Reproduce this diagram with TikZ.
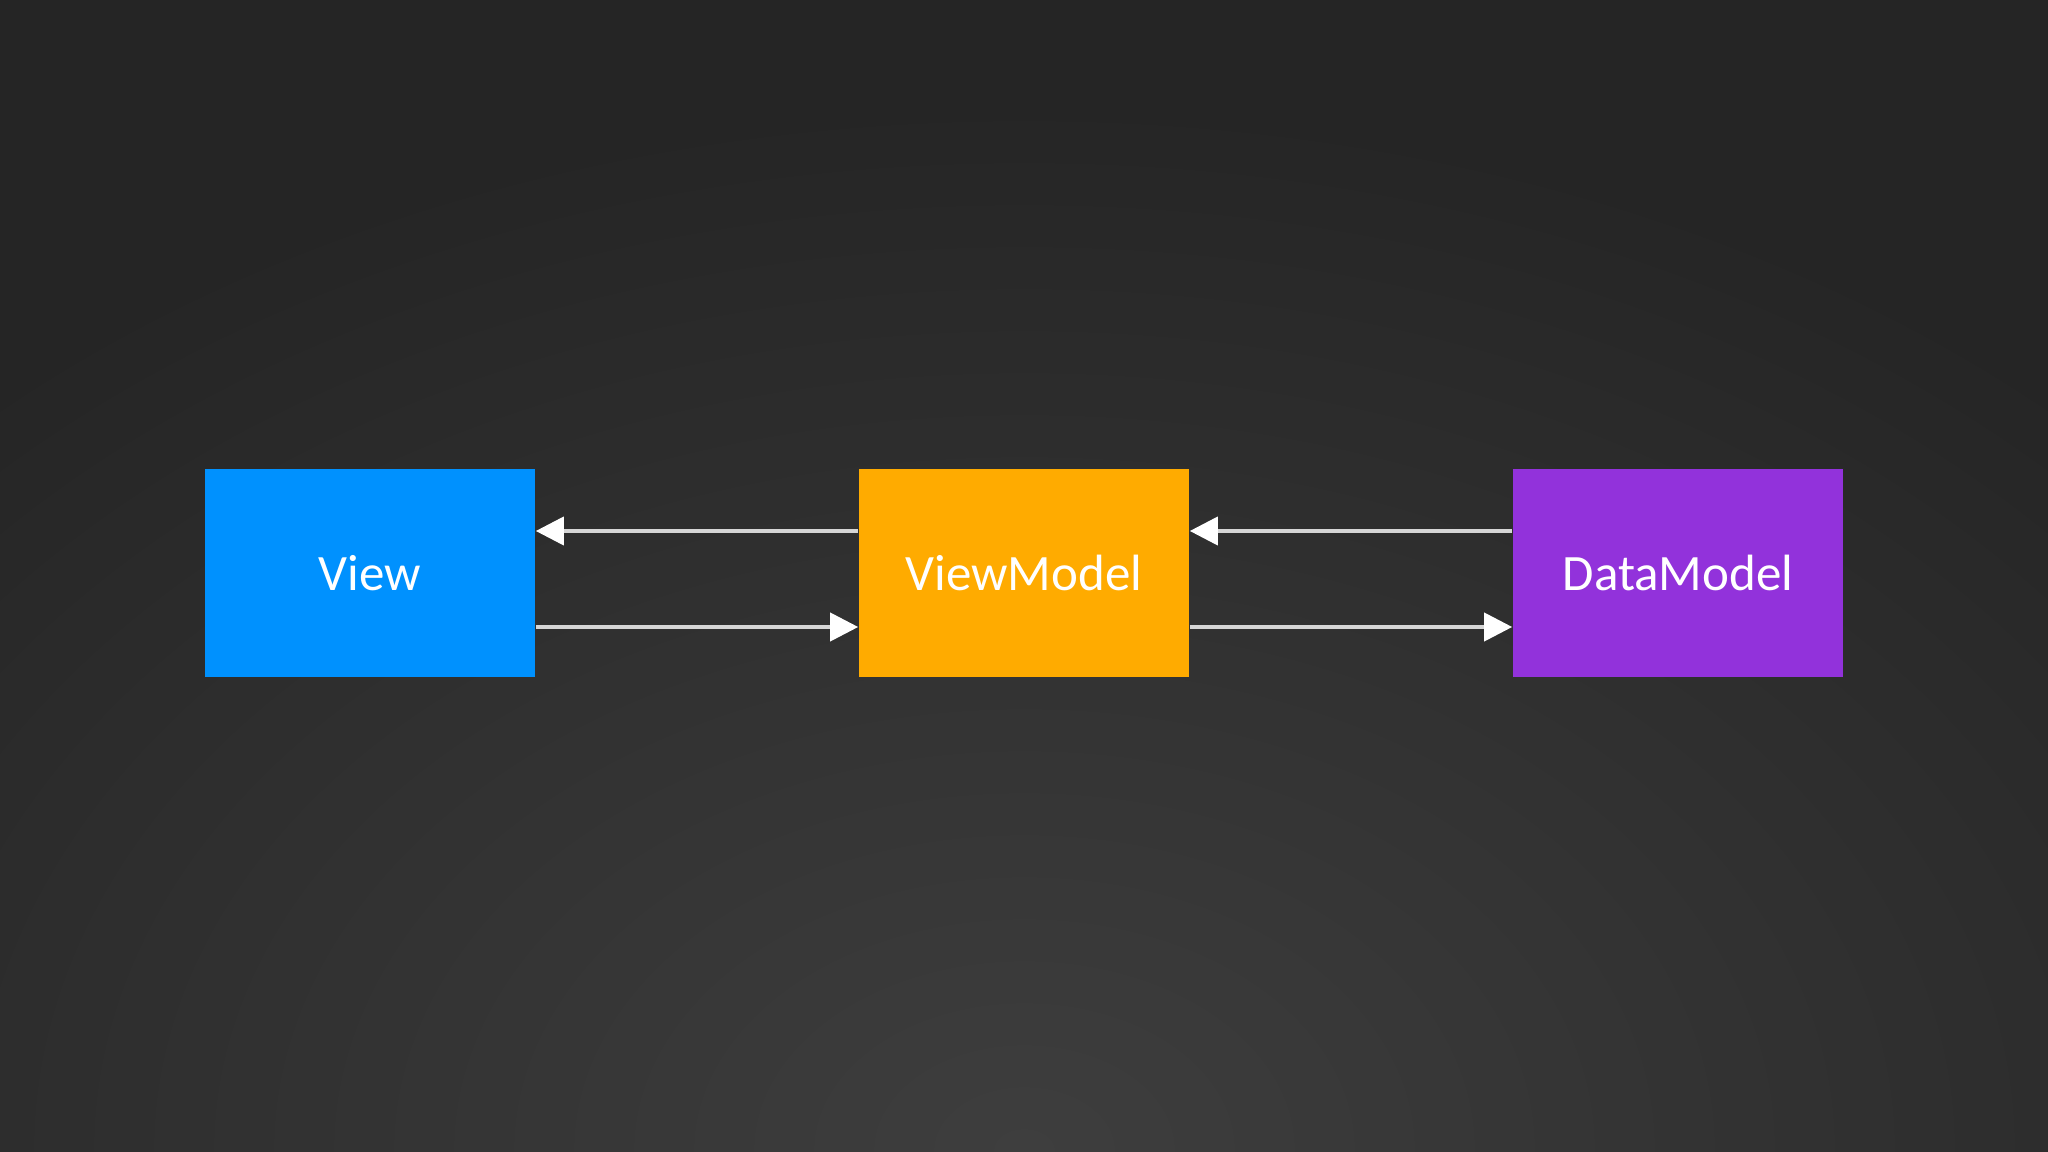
\documentclass[tikz,border=0pt]{standalone}
\usepackage{fontspec}
\setmainfont{Carlito}
\usetikzlibrary{arrows.meta}
\definecolor{bgdark}{HTML}{252525}
\definecolor{bglight}{HTML}{3E3E3E}
\definecolor{viewblue}{HTML}{0091FE}
\definecolor{vmorange}{HTML}{FFAB00}
\definecolor{dmpurple}{HTML}{9232DB}
\definecolor{linegray}{HTML}{D6D6D6}
\tikzset{
  box/.style={minimum width=3.3cm, minimum height=2.08cm, inner sep=0pt, text=white, font=\fontsize{14.5pt}{17pt}\selectfont},
  conn/.style={draw=linegray, line width=1.1pt, -{Triangle[length=8pt,width=8pt,color=white,fill=white]}}
}
\begin{document}
\begin{tikzpicture}[x=0.01cm,y=-0.01cm]
\useasboundingbox (0,0) rectangle (2048,1152);
\fill[bgdark] (0,0) rectangle (2048,1152);
\begin{scope}
\clip (0,0) rectangle (2048,1152);
\shade[inner color=bglight, outer color=bgdark] (1024,1150) ellipse [x radius=1500, y radius=1050];
\end{scope}
\node[box, fill=viewblue] (view) at (370,573) {View};
\node[box, fill=vmorange] (vm) at (1024,573) {ViewModel};
\node[box, fill=dmpurple] (dm) at (1678,573) {DataModel};
\draw[conn] (vm.west |- 0,531) -- (view.east |- 0,531);
\draw[conn] (view.east |- 0,627) -- (vm.west |- 0,627);
\draw[conn] (dm.west |- 0,531) -- (vm.east |- 0,531);
\draw[conn] (vm.east |- 0,627) -- (dm.west |- 0,627);
\end{tikzpicture}
\end{document}
